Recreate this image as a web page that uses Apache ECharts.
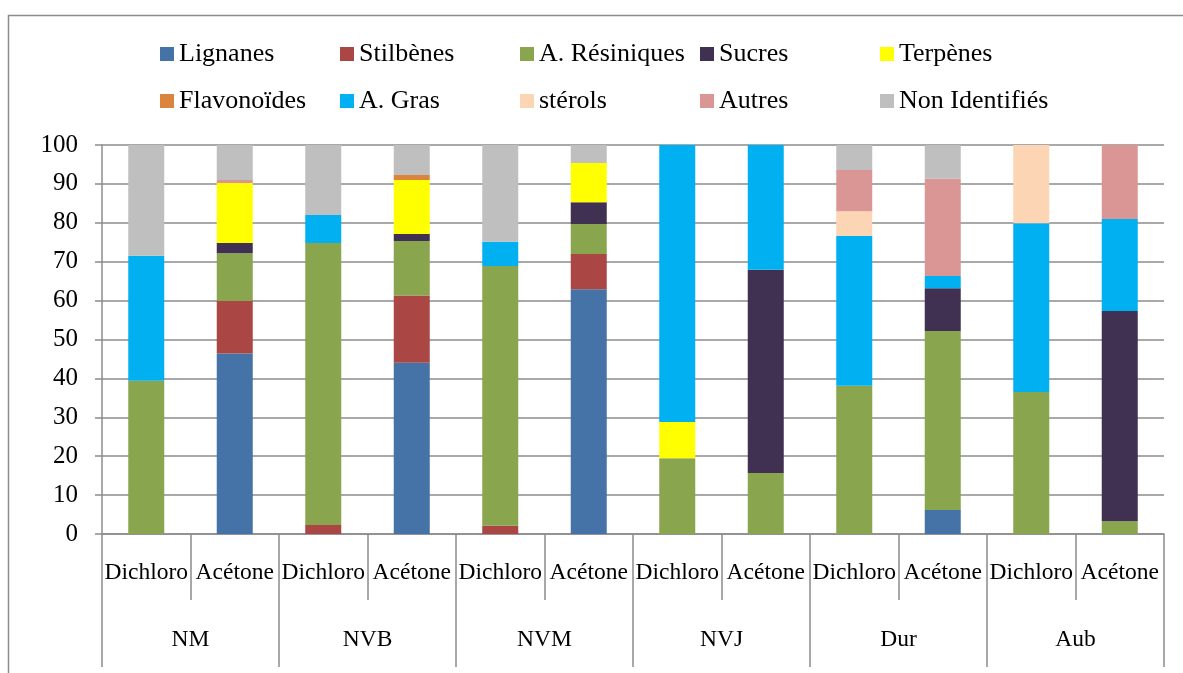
<!doctype html>
<html>
<head>
<meta charset="UTF-8">
<title>Composition des extraits</title>
<script src="https://cdn.jsdelivr.net/npm/echarts@6/dist/echarts.min.js"></script>
<style>
  html, body { margin: 0; padding: 0; background: #fff; }
  #main { width: 1183px; height: 673px; }
</style>
</head>
<body>
<div id="main"></div>
<script>
// categories
var solvants = ['Dichloro', 'Acétone', 'Dichloro', 'Acétone', 'Dichloro', 'Acétone',
                'Dichloro', 'Acétone', 'Dichloro', 'Acétone', 'Dichloro', 'Acétone'];
var groupes = ['NM', 'NVB', 'NVM', 'NVJ', 'Dur', 'Aub'];
var yTicks = [0, 10, 20, 30, 40, 50, 60, 70, 80, 90, 100];

// series values (%), one per bar
var lignanes      = [0, 46.4, 0, 44.0, 0, 62.9, 0, 0, 0, 6.2, 0, 0];
var stilbenes     = [0, 13.5, 2.3, 17.3, 2.1, 9.1, 0, 0, 0, 0, 0, 0];
var aResiniques   = [39.4, 12.3, 72.5, 14.0, 66.8, 7.7, 19.5, 15.7, 38.1, 46.0, 36.5, 3.3];
var sucres        = [0, 2.6, 0, 1.8, 0, 5.6, 0, 52.2, 0, 11.0, 0, 54.0];
var terpenes      = [0, 15.4, 0, 13.9, 0, 10.1, 9.3, 0, 0, 0, 0, 0];
var flavonoides   = [0, 0, 0, 1.3, 0, 0, 0, 0, 0, 0, 0, 0];
var aGras         = [32.1, 0, 7.2, 0, 6.2, 0, 71.2, 32.1, 38.5, 3.1, 43.4, 23.7];
var sterols       = [0, 0, 0, 0, 0, 0, 0, 0, 6.4, 0, 20.1, 0];
var autres        = [0, 0.8, 0, 0, 0, 0, 0, 0, 10.6, 25.0, 0, 19.0];
var nonIdentifies = [28.5, 9.0, 18.0, 7.7, 24.9, 4.6, 0, 0, 6.4, 8.7, 0, 0];

var noms = ['Lignanes', 'Stilbènes', 'A. Résiniques', 'Sucres', 'Terpènes',
            'Flavonoïdes', 'A. Gras', 'stérols', 'Autres', 'Non Identifiés'];
var valeurs = [lignanes, stilbenes, aResiniques, sucres, terpenes,
               flavonoides, aGras, sterols, autres, nonIdentifies];
var couleurs = ['#4572A7', '#AA4643', '#89A54E', '#403152', '#FFFF00',
                '#DB843D', '#00B0F0', '#FCD5B5', '#DA9694', '#BFBFBF'];

var police = "'Liberation Serif', 'Times New Roman', serif";
var gris = '#8c8c8c';

var series = [];
for (var i = 0; i < noms.length; i++) {
    series.push({
        name: noms[i],
        type: 'bar',
        stack: 'total',
        barWidth: 36,
        xAxisIndex: 0,
        itemStyle: { color: couleurs[i] },
        data: valeurs[i]
    });
}

function legende(top, items) {
    return {
        top: top,
        left: 155,
        orient: 'horizontal',
        icon: 'rect',
        itemWidth: 14,
        itemHeight: 14,
        itemGap: 0,
        selectedMode: false,
        data: items,
        textStyle: { fontFamily: police, fontSize: 26, color: '#000', width: 161, lineHeight: 30 }
    };
}

var myChart = echarts.init(document.getElementById('main'));
var option = {
    animation: false,
    color: couleurs,
    graphic: [{
        type: 'rect',
        shape: { x: 8.5, y: 15.5, width: 1400, height: 900 },
        style: { fill: 'none', stroke: gris, lineWidth: 1.5 }
    }],
    legend: [legende(34, noms.slice(0, 5)), legende(81, noms.slice(5))],
    grid: { left: 102, right: 19, top: 145, bottom: 139 },
    xAxis: [{
        type: 'category',
        position: 'bottom',
        data: solvants,
        axisLine: { show: true, lineStyle: { color: gris, width: 1.5 } },
        axisTick: { show: true, length: 66, interval: 0, lineStyle: { color: gris, width: 1.5 } },
        axisLabel: { interval: 0, margin: 27, fontFamily: police, fontSize: 23.5, color: '#000' }
    }, {
        type: 'category',
        position: 'bottom',
        data: groupes,
        axisLine: { show: false },
        axisTick: { show: true, length: 133, interval: 0, lineStyle: { color: gris, width: 1.5 } },
        axisLabel: { interval: 0, margin: 94, fontFamily: police, fontSize: 23.5, color: '#000' }
    }],
    yAxis: {
        type: 'value',
        min: yTicks[0],
        max: yTicks[yTicks.length - 1],
        interval: 10,
        axisLine: { show: true, lineStyle: { color: gris, width: 1.5 } },
        axisTick: { show: true, length: 7, lineStyle: { color: gris, width: 1.5 } },
        axisLabel: { margin: 24, fontFamily: police, fontSize: 25, color: '#000' },
        splitLine: { show: true, lineStyle: { color: gris, width: 1.5 } }
    },
    series: series
};
myChart.setOption(option);
</script>
</body>
</html>
